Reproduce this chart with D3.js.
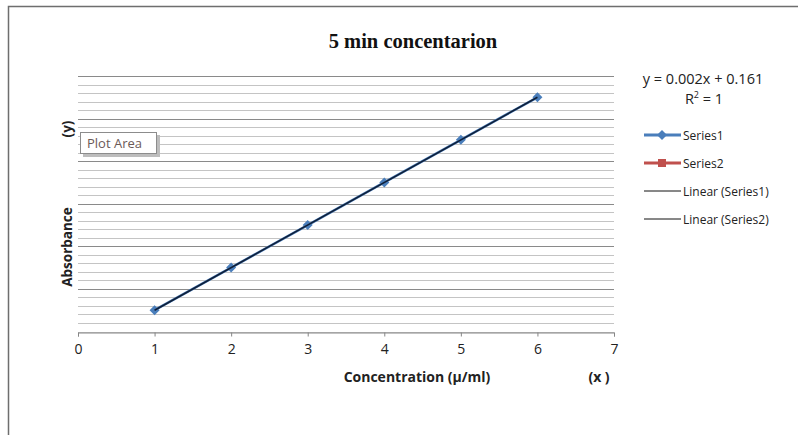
<!DOCTYPE html>
<html>
<head>
<meta charset="utf-8">
<script src="https://cdn.jsdelivr.net/npm/d3@7"></script>
<style>
  body { margin: 0; background: #fff; }
</style>
</head>
<body>
<script>
// chart values
var concentration = [1, 2, 3, 4, 5, 6];
var absorbance = [0.163, 0.165, 0.167, 0.169, 0.171, 0.173];
var xTicks = [0, 1, 2, 3, 4, 5, 6, 7];
var yMajor = [0.162, 0.164, 0.166, 0.168, 0.170, 0.172, 0.174];
var slope = 0.002, intercept = 0.161;
var legendNames = ["Series1", "Series2", "Linear (Series1)", "Linear (Series2)"];

var w = 798, h = 435;
var uiFont = "'Open Sans', 'Noto Sans', sans-serif";

var svg = d3.select("body")
    .append("svg")
    .attr("width", w)
    .attr("height", h);

// outer chart border
svg.append("rect")
   .attr("x", 8.5).attr("y", 6.5)
   .attr("width", 800).attr("height", 440)
   .attr("fill", "none")
   .attr("stroke", "#6e6e6e")
   .attr("stroke-width", 1.5);

var x = d3.scaleLinear().domain([0, 7]).range([78, 614]);
var y = d3.scaleLinear().domain([0.162, 0.174]).range([331.5, 76]);

// minor gridlines (every 0.0004)
var minor = d3.range(0, 31).map(function(i) { return 0.162 + i * 0.0004; });
svg.selectAll("line.minor")
   .data(minor)
   .enter()
   .append("line")
   .attr("class", "minor")
   .attr("x1", x(0)).attr("x2", x(7))
   .attr("y1", function(d) { return Math.round(y(d)) + 0.5; })
   .attr("y2", function(d) { return Math.round(y(d)) + 0.5; })
   .attr("stroke", "#c4c4c4")
   .attr("stroke-width", 1);

svg.selectAll("line.major")
   .data(yMajor.slice(1))
   .enter()
   .append("line")
   .attr("class", "major")
   .attr("x1", x(0)).attr("x2", x(7))
   .attr("y1", function(d) { return Math.round(y(d)) + 0.5; })
   .attr("y2", function(d) { return Math.round(y(d)) + 0.5; })
   .attr("stroke", "#8a8a8a")
   .attr("stroke-width", 1);

// x axis
var xAxis = d3.axisBottom(x)
    .tickValues(xTicks)
    .tickSize(4)
    .tickPadding(8)
    .tickFormat(d3.format("d"));

var gx = svg.append("g")
   .attr("transform", "translate(0," + (Math.round(y(0.162)) + 0.5) + ")")
   .call(xAxis);
gx.select(".domain").attr("stroke", "#868686");
gx.selectAll(".tick line").attr("stroke", "#868686");
gx.selectAll(".tick text")
  .attr("font-family", uiFont)
  .attr("font-size", "14px")
  .attr("fill", "#222");

// series line + trendline
var line = d3.line()
    .x(function(d, i) { return x(concentration[i]); })
    .y(function(d) { return y(d); });

svg.append("path")
   .datum(absorbance)
   .attr("d", line)
   .attr("fill", "none")
   .attr("stroke", "#4a7ebb")
   .attr("stroke-width", 2.5);

// square rotated 45 degrees = Excel style diamond
var diamond = d3.symbol().type(d3.symbolSquare).size(50);
svg.selectAll("path.pt")
   .data(absorbance)
   .enter()
   .append("path")
   .attr("class", "pt")
   .attr("d", diamond)
   .attr("transform", function(d, i) { return "translate(" + x(concentration[i]) + "," + y(d) + ") rotate(45)"; })
   .attr("fill", "#4a7ebb");

svg.append("line")
   .attr("x1", x(1)).attr("y1", y(slope * 1 + intercept))
   .attr("x2", x(6)).attr("y2", y(slope * 6 + intercept))
   .attr("stroke", "#0f1f38")
   .attr("stroke-width", 1.6);

// title
svg.append("text")
   .text("5 min concentarion")
   .attr("x", 413).attr("y", 48)
   .attr("text-anchor", "middle")
   .attr("font-family", "'Liberation Serif', 'DejaVu Serif', serif")
   .attr("font-weight", "bold")
   .attr("font-size", "20.5px")
   .attr("fill", "#111");

// axis titles
svg.append("text")
   .text("Concentration (\u00b5/ml)")
   .attr("x", 417).attr("y", 382)
   .attr("text-anchor", "middle")
   .attr("font-family", uiFont)
   .attr("font-weight", "bold")
   .attr("font-size", "14px")
   .attr("fill", "#222");

svg.append("text")
   .text("(x )")
   .attr("x", 599).attr("y", 382)
   .attr("text-anchor", "middle")
   .attr("font-family", uiFont)
   .attr("font-weight", "bold")
   .attr("font-size", "14px")
   .attr("fill", "#222");

svg.append("text")
   .text("Absorbance")
   .attr("transform", "translate(72,247) rotate(-90)")
   .attr("text-anchor", "middle")
   .attr("font-family", uiFont)
   .attr("font-weight", "bold")
   .attr("font-size", "13.5px")
   .attr("fill", "#222");

svg.append("text")
   .text("(y)")
   .attr("transform", "translate(72,129) rotate(-90)")
   .attr("text-anchor", "middle")
   .attr("font-family", uiFont)
   .attr("font-weight", "bold")
   .attr("font-size", "13.5px")
   .attr("fill", "#222");

// "Plot Area" tooltip
svg.append("rect")
   .attr("x", 83).attr("y", 135)
   .attr("width", 77).attr("height", 22)
   .attr("fill", "#bdbdbd");
svg.append("rect")
   .attr("x", 80.5).attr("y", 132.5)
   .attr("width", 76).attr("height", 21)
   .attr("fill", "#fff")
   .attr("stroke", "#8c8c8c");
svg.append("text")
   .text("Plot Area")
   .attr("x", 87).attr("y", 148)
   .attr("font-family", uiFont)
   .attr("font-size", "13px")
   .attr("fill", "#6b5a57");

// equation
svg.append("text")
   .text("y = " + slope.toFixed(3) + "x + " + intercept.toFixed(3))
   .attr("x", 703).attr("y", 84)
   .attr("text-anchor", "middle")
   .attr("font-family", uiFont)
   .attr("font-size", "14.5px")
   .attr("fill", "#222");
var r2 = svg.append("text")
   .attr("x", 704).attr("y", 104)
   .attr("text-anchor", "middle")
   .attr("font-family", uiFont)
   .attr("font-size", "14.5px")
   .attr("fill", "#222");
r2.append("tspan").text("R");
r2.append("tspan").text("2").attr("font-size", "9px").attr("dy", -6);
r2.append("tspan").text(" = 1").attr("dy", 6);

// legend
var legendY = [135, 163, 191, 219];
var legendColor = ["#4a7ebb", "#c0504d", "#111", "#111"];
var lg = svg.selectAll("g.legend")
   .data(legendNames)
   .enter()
   .append("g")
   .attr("class", "legend")
   .attr("transform", function(d, i) { return "translate(0," + legendY[i] + ")"; });

lg.append("line")
  .attr("x1", 644).attr("x2", 681)
  .attr("y1", 0).attr("y2", 0)
  .attr("stroke", function(d, i) { return legendColor[i]; })
  .attr("stroke-width", function(d, i) { return i < 2 ? 3 : 1; });

lg.filter(function(d, i) { return i === 0; })
  .append("path")
  .attr("d", diamond)
  .attr("transform", "translate(662,0) rotate(45)")
  .attr("fill", legendColor[0]);

lg.filter(function(d, i) { return i === 1; })
  .append("rect")
  .attr("x", 658).attr("y", -4)
  .attr("width", 8).attr("height", 8)
  .attr("fill", legendColor[1]);

lg.append("text")
  .text(function(d) { return d; })
  .attr("x", 683).attr("y", 4.5)
  .attr("font-family", uiFont)
  .attr("font-size", "12px")
  .attr("fill", "#222");
</script>
</body>
</html>
